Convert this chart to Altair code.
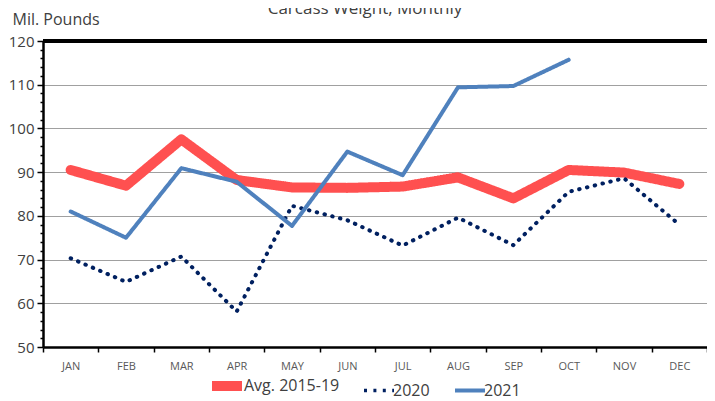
import altair as alt
import pandas as pd

months = ["JAN", "FEB", "MAR", "APR", "MAY", "JUN", "JUL", "AUG", "SEP", "OCT", "NOV", "DEC"]
avg_2015_19 = [90.5, 86.9, 97.5, 88.2, 86.5, 86.4, 86.7, 88.8, 84.0, 90.5, 89.9, 87.3]
y2020 = [70.3, 64.9, 70.7, 58.1, 82.3, 79.0, 73.2, 79.6, 73.3, 85.5, 88.6, 78.0]
y2021 = [81.0, 75.0, 90.9, 87.8, 77.7, 94.7, 89.3, 109.4, 109.7, 115.7]
series_names = ["Avg. 2015-19", "2020", "2021"]
series_colors = ["#FF5050", "#002060", "#4F81BD"]
series_widths = [10, 3.5, 4]
series_dashes = [[1, 0], [3, 6.4], [1, 0]]
y_major = list(range(50, 121, 10))
y_minor = [v for v in range(50, 121, 2) if v % 10 != 0]

rows = []
for name, vals in zip(series_names, [avg_2015_19, y2020, y2021]):
    for m, v in zip(months, vals):
        rows.append({"series": name, "month": m, "value": v})
df = pd.DataFrame(rows)
minor_df = pd.DataFrame({"value": y_minor})

FONT = "Open Sans"
TXT = "#404040"

y_scale = alt.Scale(domain=[50, 120], nice=False, zero=False)

x_enc = alt.X(
    "month:N",
    sort=months,
    bandPosition=0.5,
    scale=alt.Scale(type="band", domain=months, paddingInner=0, paddingOuter=0),
    axis=alt.Axis(
        title=None, tickBand="extent", labelAngle=0, labelFontSize=11,
        labelColor="#595959", labelFont=FONT, labelPadding=8, tickSize=5,
        tickColor="black", tickWidth=1.5, domainColor="black", domainWidth=2.5,
        grid=False,
    ),
)

y_enc = alt.Y(
    "value:Q",
    scale=y_scale,
    axis=alt.Axis(
        orient="left",
        values=y_major,
        gridColor="#A0A0A0", gridWidth=1,
        tickSize=6, tickColor="black", tickWidth=1.5,
        domainColor="black", domainWidth=2.5,
        labelFontSize=15, labelColor=TXT, labelFont=FONT, labelPadding=3,
        title="Mil. Pounds", titleAngle=0, titleX=-31, titleY=-17,
        titleAlign="left", titleBaseline="alphabetic", titleFontSize=16,
        titleFontWeight="normal", titleColor=TXT, titleFont=FONT,
    ),
)

legend = alt.Legend(
    title=None, orient="none", legendX=164, legendY=325, direction="horizontal",
    symbolType="stroke", symbolSize=900, labelFontSize=16, labelColor=TXT,
    labelFont=FONT, labelOffset={"expr": "-3"}, columnPadding=17, padding=0,
)

color_enc = alt.Color("series:N", sort=series_names,
                      scale=alt.Scale(domain=series_names, range=series_colors), legend=legend)
width_enc = alt.StrokeWidth("series:N", sort=series_names,
                            scale=alt.Scale(type="ordinal", domain=series_names, range=series_widths),
                            legend=legend)
dash_enc = alt.StrokeDash("series:N", sort=series_names,
                          scale=alt.Scale(type="ordinal", domain=series_names, range=series_dashes),
                          legend=legend)

base = alt.Chart(df)
layer_avg = base.transform_filter(alt.datum.series == series_names[0]).mark_line(
    strokeCap="round", strokeJoin="round").encode(
    x=x_enc, y=y_enc, color=color_enc, strokeWidth=width_enc, strokeDash=dash_enc)
layer_2020 = base.transform_filter(alt.datum.series == series_names[1]).mark_line(
    strokeCap="round", strokeJoin="round", strokeWidth=4, strokeDash=[0.5, 7.5]).encode(
    x=x_enc, y=y_enc, color=color_enc)
layer_2021 = base.transform_filter(alt.datum.series == series_names[2]).mark_line(
    strokeCap="round", strokeJoin="round").encode(
    x=x_enc, y=y_enc, color=color_enc, strokeWidth=width_enc, strokeDash=dash_enc)

top_rule = base.mark_rule(color="black", strokeWidth=2.5).encode(y=alt.datum(120))

main = alt.layer(layer_avg, layer_2020, layer_2021, top_rule)

minor = alt.Chart(minor_df).mark_point(opacity=0).encode(
    y=alt.Y("value:Q", scale=y_scale,
            axis=alt.Axis(orient="left", values=y_minor, labels=False, grid=False,
                          domain=False, tickSize=3, tickColor="black", tickWidth=1.5,
                          title=None))
)

chart = alt.layer(main, minor).resolve_axis(y="independent").resolve_scale(y="shared").properties(
    width=664,
    height=306,
    autosize=alt.AutoSizeParams(type="none"),
    padding={"left": 35, "top": 33, "right": 0, "bottom": 54},
    title=alt.Title("Carcass Weight, Monthly", fontSize=17, font=FONT, color=TXT,
                    fontWeight="normal", anchor="middle", frame="group", offset=0, dx=-10, dy=7),
).configure_view(stroke=None).configure(font=FONT)

chart.save("out.html", embed_options={"renderer": "svg", "actions": False})
